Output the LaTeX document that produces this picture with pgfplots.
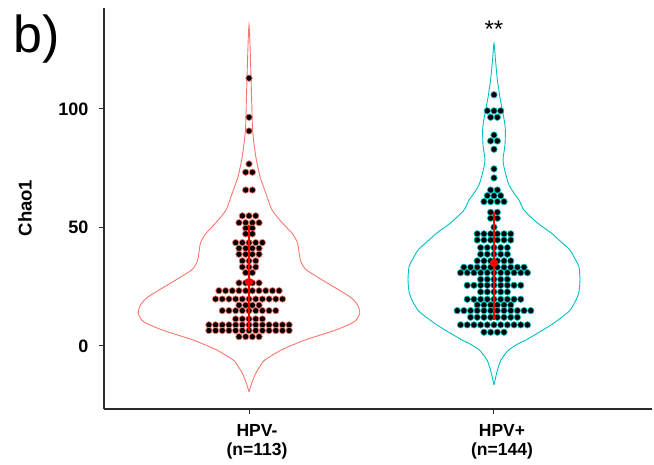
\documentclass[border=0pt]{standalone}
\usepackage{pgfplots}
\pgfplotsset{compat=1.18}
\usepackage{pgfplotstable}
\usepackage{fontspec}
\setmainfont{Liberation Sans}
\definecolor{hneg}{HTML}{F8766D}
\definecolor{hpos}{HTML}{00BFC4}
\definecolor{axgray}{HTML}{2B2B2B}

\pgfplotstableread[row sep=\\]{
x y\\
1 113\\ 1 96.5\\ 1 90.7\\ 1 76.8\\
0.9863 73.3\\ 1.0137 73.3\\
0.9863 65.8\\ 1.0137 65.8\\
0.9727 54.9\\ 1 54.9\\ 1.0273 54.9\\
0.959 52\\ 0.9863 52\\ 1.0137 52\\ 1.041 52\\
0.9863 49.7\\ 1.0137 49.7\\
0.9863 47.3\\ 1.0137 47.3\\
0.9454 43.6\\ 0.9727 43.6\\ 1 43.6\\ 1.0273 43.6\\ 1.0546 43.6\\
0.959 41.2\\ 0.9863 41.2\\ 1.0137 41.2\\ 1.041 41.2\\
0.959 38.7\\ 0.9863 38.7\\ 1.0137 38.7\\ 1.041 38.7\\
0.9727 35.9\\ 1 35.9\\ 1.0273 35.9\\
0.9727 33.3\\ 1 33.3\\ 1.0273 33.3\\
0.9863 30.9\\ 1.0137 30.9\\
0.959 26.6\\ 0.9863 26.6\\ 1.0137 26.6\\ 1.041 26.6\\
0.8771 23.3\\ 0.9044 23.3\\ 0.9317 23.3\\ 0.959 23.3\\ 0.9863 23.3\\ 1.0137 23.3\\ 1.041 23.3\\ 1.0683 23.3\\ 1.0956 23.3\\ 1.1229 23.3\\
0.8635 19.8\\ 0.8908 19.8\\ 0.9181 19.8\\ 0.9454 19.8\\ 0.9727 19.8\\ 1 19.8\\ 1.0273 19.8\\ 1.0546 19.8\\ 1.0819 19.8\\ 1.1092 19.8\\ 1.1365 19.8\\
0.959 17.2\\ 0.9863 17.2\\ 1.0137 17.2\\ 1.041 17.2\\
0.8908 14.9\\ 0.9181 14.9\\ 0.9454 14.9\\ 0.9727 14.9\\ 1 14.9\\ 1.0273 14.9\\ 1.0546 14.9\\ 1.0819 14.9\\ 1.1092 14.9\\
0.9454 11.4\\ 0.9727 11.4\\ 1 11.4\\ 1.0273 11.4\\ 1.0546 11.4\\
0.8362 8.9\\ 0.8635 8.9\\ 0.8908 8.9\\ 0.9181 8.9\\ 0.9454 8.9\\ 0.9727 8.9\\ 1 8.9\\ 1.0273 8.9\\ 1.0546 8.9\\ 1.0819 8.9\\ 1.1092 8.9\\ 1.1365 8.9\\ 1.1638 8.9\\
0.8362 6.5\\ 0.8635 6.5\\ 0.8908 6.5\\ 0.9181 6.5\\ 0.9454 6.5\\ 0.9727 6.5\\ 1 6.5\\ 1.0273 6.5\\ 1.0546 6.5\\ 1.0819 6.5\\ 1.1092 6.5\\ 1.1365 6.5\\ 1.1638 6.5\\
0.959 3.9\\ 0.9863 3.9\\ 1.0137 3.9\\ 1.041 3.9\\
}\hpvneg

\pgfplotstableread[row sep=\\]{
x y\\
2 106\\
1.9727 99.2\\ 2 99.2\\ 2.0273 99.2\\
1.9863 96.5\\ 2.0137 96.5\\
2 89\\
1.9863 86.5\\ 2.0137 86.5\\
2 83\\ 2 74.7\\ 2 70.9\\
1.9863 65.8\\ 2.0137 65.8\\
1.9727 63.4\\ 2 63.4\\ 2.0273 63.4\\
1.959 60.9\\ 1.9863 60.9\\ 2.0137 60.9\\ 2.041 60.9\\
1.9863 56.4\\ 2.0137 56.4\\
1.9863 53.9\\ 2.0137 53.9\\
2 50.1\\
1.9317 47.3\\ 1.959 47.3\\ 1.9863 47.3\\ 2.0137 47.3\\ 2.041 47.3\\ 2.0683 47.3\\
1.9317 44.7\\ 1.959 44.7\\ 1.9863 44.7\\ 2.0137 44.7\\ 2.041 44.7\\ 2.0683 44.7\\
1.9454 41.5\\ 1.9727 41.5\\ 2 41.5\\ 2.0273 41.5\\ 2.0546 41.5\\
1.9454 38.7\\ 1.9727 38.7\\ 2 38.7\\ 2.0273 38.7\\ 2.0546 38.7\\
1.9317 35.9\\ 1.959 35.9\\ 1.9863 35.9\\ 2.0137 35.9\\ 2.041 35.9\\ 2.0683 35.9\\
1.8771 33.2\\ 1.9044 33.2\\ 1.9317 33.2\\ 1.959 33.2\\ 1.9863 33.2\\ 2.0137 33.2\\ 2.041 33.2\\ 2.0683 33.2\\ 2.0956 33.2\\ 2.1229 33.2\\
1.8635 30.9\\ 1.8908 30.9\\ 1.9181 30.9\\ 1.9454 30.9\\ 1.9727 30.9\\ 2 30.9\\ 2.0273 30.9\\ 2.0546 30.9\\ 2.0819 30.9\\ 2.1092 30.9\\ 2.1365 30.9\\
1.9454 28.1\\ 1.9727 28.1\\ 2 28.1\\ 2.0273 28.1\\ 2.0546 28.1\\
1.8908 25.6\\ 1.9181 25.6\\ 1.9454 25.6\\ 1.9727 25.6\\ 2 25.6\\ 2.0273 25.6\\ 2.0546 25.6\\ 2.0819 25.6\\ 2.1092 25.6\\
1.9454 22.8\\ 1.9727 22.8\\ 2 22.8\\ 2.0273 22.8\\ 2.0546 22.8\\
1.8908 19.7\\ 1.9181 19.7\\ 1.9454 19.7\\ 1.9727 19.7\\ 2 19.7\\ 2.0273 19.7\\ 2.0546 19.7\\ 2.0819 19.7\\ 2.1092 19.7\\
1.9317 17.3\\ 1.959 17.3\\ 1.9863 17.3\\ 2.0137 17.3\\ 2.041 17.3\\ 2.0683 17.3\\
1.8498 14.9\\ 1.8771 14.9\\ 1.9044 14.9\\ 1.9317 14.9\\ 1.959 14.9\\ 1.9863 14.9\\ 2.0137 14.9\\ 2.041 14.9\\ 2.0683 14.9\\ 2.0956 14.9\\ 2.1229 14.9\\ 2.1502 14.9\\
1.9044 12.1\\ 1.9317 12.1\\ 1.959 12.1\\ 1.9863 12.1\\ 2.0137 12.1\\ 2.041 12.1\\ 2.0683 12.1\\ 2.0956 12.1\\
1.8635 8.9\\ 1.8908 8.9\\ 1.9181 8.9\\ 1.9454 8.9\\ 1.9727 8.9\\ 2 8.9\\ 2.0273 8.9\\ 2.0546 8.9\\ 2.0819 8.9\\ 2.1092 8.9\\ 2.1365 8.9\\
1.959 5.8\\ 1.9863 5.8\\ 2.0137 5.8\\ 2.041 5.8\\
}\hpvpos

\begin{document}
\begin{tikzpicture}
\useasboundingbox (-104pt,-56pt) rectangle (550pt,409pt);
\begin{axis}[
 at={(0pt,0pt)}, anchor=south west,
 scale only axis, width=548pt, height=401pt,
 xmin=0.408, xmax=2.645, ymin=-26.6, ymax=142.6,
 axis x line*=bottom, axis y line*=left,
 axis line style={axgray, line width=1.2pt},
 xtick={1,2}, xticklabels={{HPV-\\(n=113)},{HPV+\\(n=144)}},
 xticklabel style={align=center, font=\fontsize{17.5}{19}\selectfont\bfseries, xshift=8pt, yshift=-7pt},
 ytick={0,50,100},
 yticklabel style={font=\fontsize{18}{19}\selectfont\bfseries, xshift=-7pt},
 /pgf/number format/assume math mode=true,
 tick style={axgray, line width=1pt},
 major tick length=5pt,
 tick align=outside,
 clip=false,
 clip mode=individual,
]
% violins
\addplot[hneg, line width=0.9pt, smooth, tension=0.4] coordinates {
(1,-19.4) (1.01,-16) (1.025,-12) (1.048,-8) (1.065,-5.9) (1.132,-1.7) (1.228,2.5) (1.356,6.8) (1.431,10.3) (1.452,13.8) (1.443,17.3) (1.411,20.8) (1.322,26.4) (1.235,32) (1.212,35.5) (1.205,39) (1.198,43.5) (1.176,47.5) (1.135,52) (1.094,57.4) (1.068,64.6) (1.045,71.4) (1.03,78.5) (1.02,85.6) (1.014,92.5) (1.01,106.6) (1.006,120.7) (1.003,130) (1,135.4)
(0.997,130) (0.994,120.7) (0.99,106.6) (0.986,92.5) (0.98,85.6) (0.97,78.5) (0.955,71.4) (0.932,64.6) (0.906,57.4) (0.865,52) (0.824,47.5) (0.802,43.5) (0.795,39) (0.788,35.5) (0.765,32) (0.678,26.4) (0.589,20.8) (0.557,17.3) (0.548,13.8) (0.569,10.3) (0.644,6.8) (0.772,2.5) (0.868,-1.7) (0.935,-5.9) (0.952,-8) (0.975,-12) (0.99,-16) (1,-19.4)};
\addplot[hpos, line width=0.9pt, smooth, tension=0.4] coordinates {
(2,-16.5) (2.012,-11) (2.028,-6) (2.06,-1.7) (2.1,1) (2.13,2.5) (2.18,5.5) (2.235,9) (2.28,12.4) (2.31,15) (2.335,19.4) (2.347,23) (2.351,28) (2.347,33.3) (2.335,36) (2.31,40.5) (2.273,44) (2.233,47.7) (2.176,52) (2.122,57.4) (2.102,61.6) (2.082,64.4) (2.061,68) (2.049,72) (2.04,76) (2.037,79) (2.045,85) (2.046,92) (2.037,98) (2.024,105) (2.02,108) (2.014,112) (2.006,120.7) (2,127.7)
(1.994,120.7) (1.986,112) (1.98,108) (1.976,105) (1.963,98) (1.954,92) (1.955,85) (1.963,79) (1.96,76) (1.951,72) (1.939,68) (1.918,64.4) (1.898,61.6) (1.878,57.4) (1.824,52) (1.767,47.7) (1.727,44) (1.69,40.5) (1.665,36) (1.653,33.3) (1.649,28) (1.653,23) (1.665,19.4) (1.69,15) (1.72,12.4) (1.765,9) (1.82,5.5) (1.87,2.5) (1.9,1) (1.94,-1.7) (1.972,-6) (1.988,-11) (2,-16.5)};
% dots
\addplot[only marks, mark=*, mark size=3.2pt, mark options={fill=black, draw=hneg, line width=0.7pt}] table[x=x, y=y] {\hpvneg};
\addplot[only marks, mark=*, mark size=3.2pt, mark options={fill=black, draw=hpos, line width=0.7pt}] table[x=x, y=y] {\hpvpos};
% mean +- sd
\addplot[red, line width=1.2pt] coordinates {(1,6.5) (1,51)};
\addplot[red, line width=1.2pt] coordinates {(2,11) (2,56.5)};
\addplot[only marks, mark=*, red, mark size=3.9pt] coordinates {(1,27) (2,35)};
\node[font=\fontsize{24}{24}\selectfont] at (axis cs:2,133.5) {**};
\end{axis}
\node[rotate=90, font=\fontsize{18.5}{19}\selectfont\bfseries] at (-79pt,201pt) {Chao1};
\node[font=\fontsize{52}{52}\selectfont] at (-67pt,370pt) {b)};
\end{tikzpicture}
\end{document}
